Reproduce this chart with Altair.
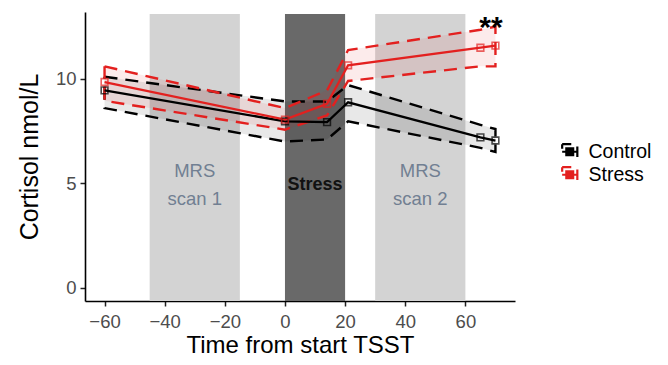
import altair as alt
import pandas as pd

# ---- data ----
times = [-60, 0, 14, 21, 65, 70]
control_mean = [9.45, 7.97, 7.93, 8.88, 7.20, 7.05]
control_lo = [8.60, 7.00, 7.10, 7.97, 6.70, 6.50]
control_hi = [10.10, 8.92, 8.92, 9.70, 7.80, 7.60]
stress_mean = [9.85, 8.05, 8.81, 10.65, 11.49, 11.59]
stress_lo = [8.95, 7.57, 8.25, 9.90, 10.60, 10.60]
stress_hi = [10.60, 8.60, 9.45, 11.38, 12.35, 12.50]

band_names = ["MRS\nscan 1", "Stress", "MRS\nscan 2"]
band_start = [-45, 0, 30]
band_end = [-15, 20, 60]
band_fill = ["#d3d3d3", "#696969", "#d3d3d3"]
band_text_y = [5.59, 4.92, 5.59]
band_bold = [False, True, False]

groups = ["Control", "Stress"]
group_colors = ["#000000", "#e3201f"]
x_ticks = [-60, -40, -20, 0, 20, 40, 60]
y_ticks = [0, 5, 10]
x_domain = [-66.5, 76.5]
y_domain = [-0.63, 13.2]

# ---- tables ----
rows = []
for g, m, lo, hi in [("Control", control_mean, control_lo, control_hi),
                     ("Stress", stress_mean, stress_lo, stress_hi)]:
    for t, a, b, c in zip(times, m, lo, hi):
        rows.append({"group": g, "time": t, "mean": a, "lo": b, "hi": c})
df = pd.DataFrame(rows)

outline = []
for g, lo, hi in [("Control", control_lo, control_hi), ("Stress", stress_lo, stress_hi)]:
    k = 0
    for t, h in zip(times, hi):
        outline.append({"group": g, "time": t, "v": h, "k": k}); k += 1
    for t, l in zip(reversed(times), reversed(lo)):
        outline.append({"group": g, "time": t, "v": l, "k": k}); k += 1
    outline.append({"group": g, "time": times[0], "v": hi[0], "k": k})
outline_df = pd.DataFrame(outline)

bands = pd.DataFrame({"name": band_names, "x1": band_start, "x2": band_end,
                      "fill": band_fill, "bold": band_bold, "yc": band_text_y})
bands["xc"] = (bands["x1"] + bands["x2"]) / 2

stars = pd.DataFrame({"t": [68.5], "v": [12.45], "label": ["**"]})

FONT = "Liberation Sans"
xs = alt.Scale(domain=x_domain, nice=False, zero=False)
ys = alt.Scale(domain=y_domain, nice=False, zero=False)
cs = alt.Scale(domain=groups, range=group_colors)

x_axis = alt.Axis(values=x_ticks, title="Time from start TSST", grid=False,
                  labelFontSize=18.5, labelColor="#4d4d4d", labelFont=FONT,
                  titleFontSize=24, titleFont=FONT, titleFontWeight="normal",
                  titleColor="#000000", titlePadding=3, domainColor="#000000",
                  domainWidth=1.6, tickColor="#222222", tickWidth=1.5, tickSize=5,
                  labelPadding=6)
y_axis = alt.Axis(values=y_ticks, title="Cortisol nmol/L", grid=False,
                  labelFontSize=18.5, labelColor="#4d4d4d", labelFont=FONT,
                  titleFontSize=25, titleFont=FONT, titleFontWeight="normal",
                  titleColor="#000000", titlePadding=13, domainColor="#000000",
                  domainWidth=1.6, tickColor="#222222", tickWidth=1.5, tickSize=5,
                  labelPadding=4)

rects = alt.Chart(bands).mark_rect().encode(
    x=alt.X("x1:Q", scale=xs, axis=x_axis),
    x2="x2:Q",
    y=alt.value(2),
    y2=alt.value(289),
    fill=alt.Fill("fill:N", scale=None),
)

band_text_normal = alt.Chart(bands).transform_filter("!datum.bold").mark_text(
    fontSize=18.5, font=FONT, lineBreak="\n", lineHeight=28, baseline="middle",
    color="#717f92").encode(
    x=alt.X("xc:Q", scale=xs),
    y=alt.Y("yc:Q", scale=ys),
    text="name:N",
)
band_text_bold = alt.Chart(bands).transform_filter("datum.bold").mark_text(
    fontSize=18, font=FONT, fontWeight="bold", baseline="middle",
    color="#111111").encode(
    x=alt.X("xc:Q", scale=xs),
    y=alt.Y("yc:Q", scale=ys),
    text="name:N",
)

legend = alt.Legend(title=None, orient="none", legendX=475, legendY=130,
                    labelFontSize=19.5, labelFont=FONT, labelColor="#000000",
                    symbolType="M-1,0H-0.45M0.45,0H1M-0.45,-0.45H0.45V0.45H-0.45ZM1,-0.7V0.7M-1,-1H0.2M-1,-1V-0.4",
                    symbolSize=230, symbolStrokeWidth=2.2, symbolFillColor="transparent",
                    symbolOpacity=1, rowPadding=0, labelOffset=9, padding=0)

ribbon = alt.Chart(df).mark_area(opacity=0.09).encode(
    x=alt.X("time:Q", scale=xs),
    y=alt.Y("lo:Q", scale=ys, axis=y_axis),
    y2="hi:Q",
    color=alt.Color("group:N", scale=cs, legend=legend),
)

outline_layer = alt.Chart(outline_df).mark_line(strokeDash=[13, 8], strokeWidth=2.4).encode(
    x=alt.X("time:Q", scale=xs),
    y=alt.Y("v:Q", scale=ys),
    order="k:Q",
    color=alt.Color("group:N", scale=cs, legend=legend),
    detail="group:N",
)

mean_line = alt.Chart(df).mark_line(strokeWidth=2.3).encode(
    x=alt.X("time:Q", scale=xs),
    y=alt.Y("mean:Q", scale=ys),
    color=alt.Color("group:N", scale=cs, legend=legend),
)

pts = alt.Chart(df).mark_point(shape="square", filled=False, size=45, strokeWidth=1.6).encode(
    x=alt.X("time:Q", scale=xs),
    y=alt.Y("mean:Q", scale=ys),
    color=alt.Color("group:N", scale=cs, legend=legend),
)

star_text = alt.Chart(stars).mark_text(fontSize=30, fontWeight="bold", font=FONT,
                                       baseline="middle", color="#000000").encode(
    x=alt.X("t:Q", scale=xs),
    y=alt.Y("v:Q", scale=ys),
    text="label:N",
)

chart = alt.layer(rects, band_text_normal, band_text_bold, ribbon, outline_layer,
                  mean_line, pts, star_text).properties(
    width=430, height=289,
    autosize=alt.AutoSizeParams(type="none"),
    padding={"left": 77, "top": 4, "right": 145, "bottom": 56},
).configure_view(stroke=None).configure_axis(grid=False)

chart.save("out.html", embed_options={"renderer": "svg", "actions": False})
